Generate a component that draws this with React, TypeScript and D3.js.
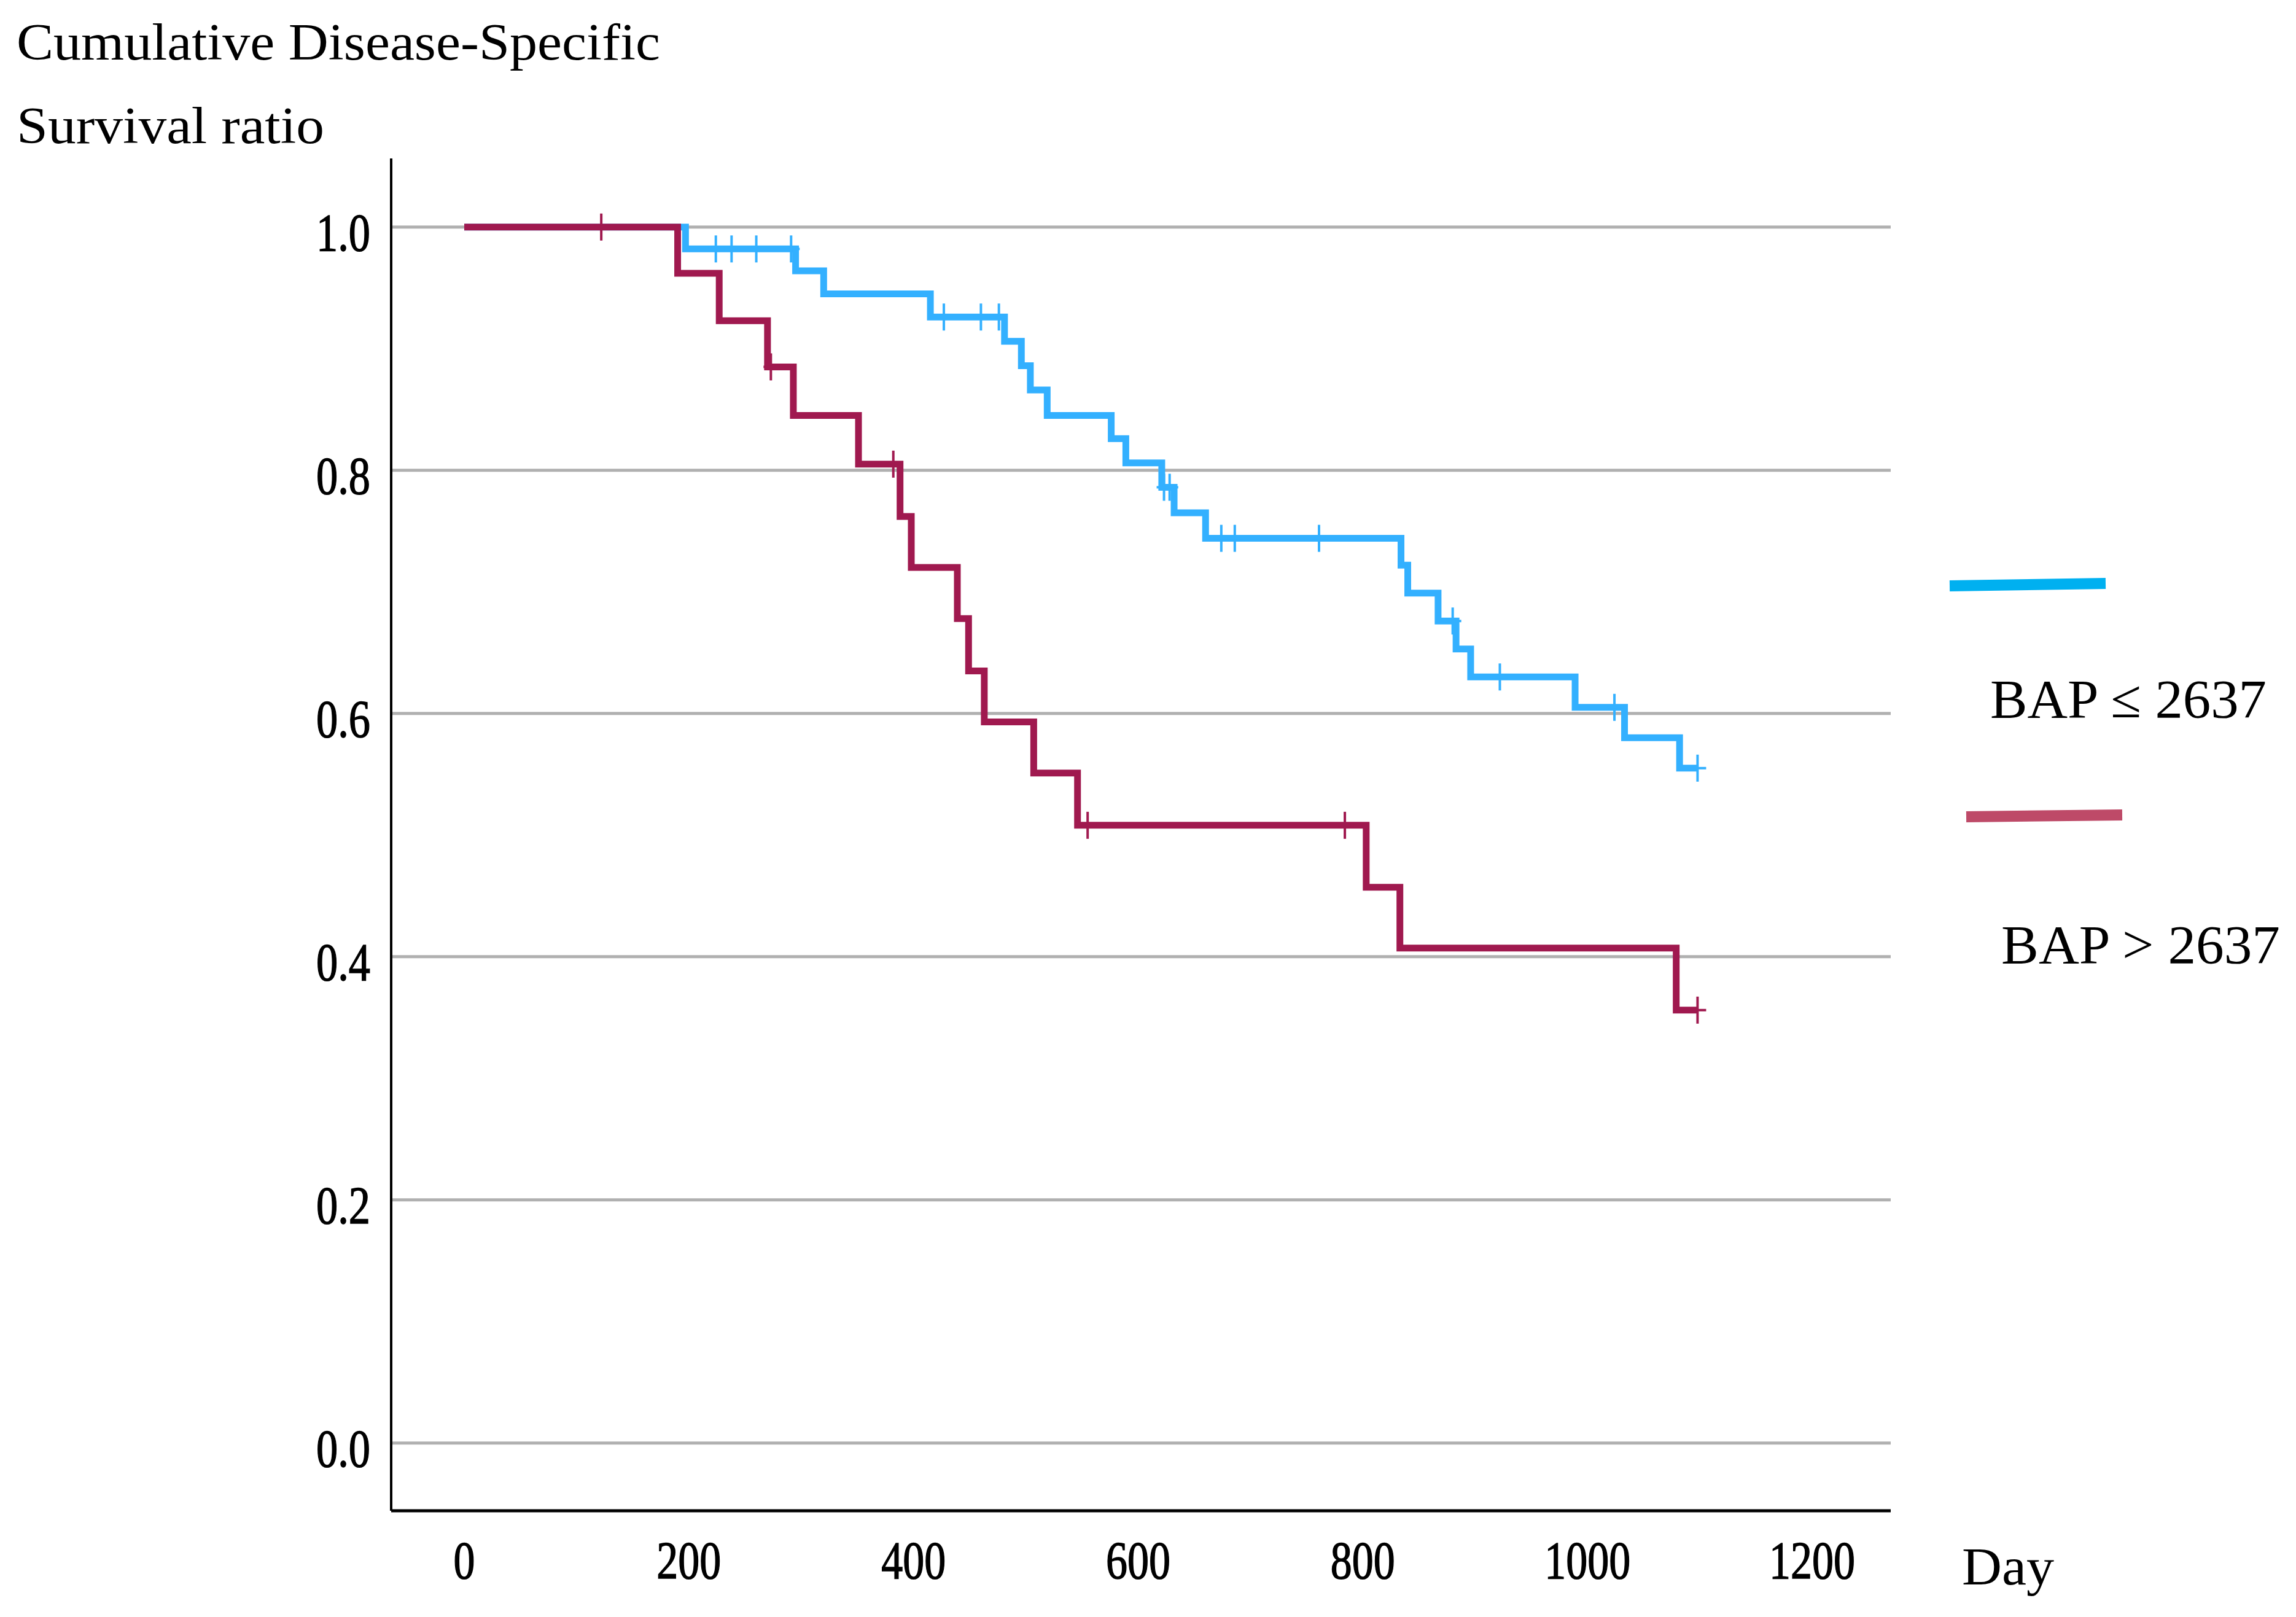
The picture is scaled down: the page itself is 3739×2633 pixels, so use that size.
import * as d3 from "d3"

// Kaplan-Meier steps: day of event and survival ratio after it
const lowDays = [0, 197, 295, 320, 415, 481, 496, 504, 519, 576, 589, 621, 632, 660, 834, 840, 867, 883, 896, 989, 1033, 1082]
const lowSurv = [1.0, 0.982, 0.964, 0.945, 0.926, 0.906, 0.886, 0.866, 0.845, 0.826, 0.806, 0.786, 0.765, 0.744, 0.722, 0.699, 0.676, 0.653, 0.63, 0.605, 0.58, 0.555]
const lowCensored = [224, 238, 260, 291, 427, 460, 476, 623, 628, 674, 686, 761, 880, 922, 1024, 1098]
const lowEnd = 1098

const highDays = [0, 190, 227, 270, 293, 351, 388, 398, 439, 449, 463, 507, 546, 803, 833, 1079]
const highSurv = [1.0, 0.962, 0.923, 0.885, 0.845, 0.805, 0.762, 0.72, 0.678, 0.635, 0.593, 0.551, 0.508, 0.457, 0.407, 0.356]
const highCensored = [122, 273, 382, 555, 784, 1098]
const highEnd = 1098

const xTicks = [0, 200, 400, 600, 800, 1000, 1200]
const yTicks = [0, 0.2, 0.4, 0.6, 0.8, 1.0]

const W = 3739
const H = 2633
const font = "'Liberation Serif', 'Times New Roman', serif"

const x = d3.scaleLinear().domain([0, 1200]).range([756, 2951])
const y = d3.scaleLinear().domain([0, 1]).range([2349.7, 369.7])

const axisLeftX = 637
const axisBottomY = 2460
const plotRight = 3079
const plotTop = 258

type Pt = { day: number; s: number }

function steps(days: number[], surv: number[], end: number): Pt[] {
  const pts = days.map((d, i) => ({ day: d, s: surv[i] }))
  pts.push({ day: end, s: surv[surv.length - 1] })
  return pts
}

function survAt(days: number[], surv: number[], t: number) {
  let s = surv[0]
  days.forEach((d, i) => {
    if (d <= t) s = surv[i]
  })
  return s
}

const stepLine = d3
  .line<Pt>()
  .x((d) => x(d.day))
  .y((d) => y(d.s))
  .curve(d3.curveStepAfter)

function Curve({ days, surv, censored, end, color }: { days: number[]; surv: number[]; censored: number[]; end: number; color: string }) {
  return (
    <g>
      <path d={stepLine(steps(days, surv, end)) || ""} fill="none" stroke={color} strokeWidth={11} strokeLinejoin="miter" />
      {censored.map((t, i) => {
        const cx = x(t)
        const cy = y(survAt(days, surv, t))
        return (
          <g key={i} stroke={color} strokeWidth={4}>
            <line x1={cx} x2={cx} y1={cy - 22} y2={cy + 22} />
            <line x1={cx - 12} x2={cx + 14} y1={cy} y2={cy} />
          </g>
        )
      })}
    </g>
  )
}

export default function App() {
  return (
    <svg
      width={W}
      height={H}
      viewBox={`0 0 ${W} ${H}`}
      style={{ position: "absolute", left: 0, top: 0, display: "block", background: "#fff" }}
    >
      <rect width={W} height={H} fill="#fff" />

      {/* titles */}
      <text x={27} y={97} fontFamily={font} fontSize={84} textLength={1048} lengthAdjust="spacingAndGlyphs" fill="#000">
        Cumulative Disease-Specific
      </text>
      <text x={27} y={233} fontFamily={font} fontSize={84} textLength={501} lengthAdjust="spacingAndGlyphs" fill="#000">
        Survival ratio
      </text>

      {/* gridlines */}
      {yTicks.map((t) => (
        <line key={t} x1={axisLeftX} x2={plotRight} y1={y(t)} y2={y(t)} stroke="#b0b0b0" strokeWidth={5} />
      ))}

      {/* axes */}
      <line x1={axisLeftX} x2={axisLeftX} y1={plotTop} y2={axisBottomY} stroke="#000" strokeWidth={4} />
      <line x1={axisLeftX} x2={plotRight} y1={axisBottomY} y2={axisBottomY} stroke="#000" strokeWidth={5} />

      {yTicks.map((t) => (
        <text
          key={t}
          x={603}
          y={y(t) + 38}
          textAnchor="end"
          fontFamily={font}
          fontSize={86}
          textLength={88}
          lengthAdjust="spacingAndGlyphs"
          fill="#000"
          stroke="#000"
          strokeWidth={1.5}
        >
          {t.toFixed(1)}
        </text>
      ))}
      {xTicks.map((t) => (
        <text
          key={t}
          x={x(t)}
          y={2570}
          textAnchor="middle"
          fontFamily={font}
          fontSize={86}
          textLength={35 * String(t).length}
          lengthAdjust="spacingAndGlyphs"
          fill="#000"
          stroke="#000"
          strokeWidth={1.5}
        >
          {t}
        </text>
      ))}
      <text x={3195} y={2580} fontFamily={font} fontSize={86} textLength={150} lengthAdjust="spacingAndGlyphs" fill="#000">
        Day
      </text>

      {/* survival curves */}
      <Curve days={lowDays} surv={lowSurv} censored={lowCensored} end={lowEnd} color="#33b0ff" />
      <Curve days={highDays} surv={highSurv} censored={highCensored} end={highEnd} color="#a0194f" />

      {/* legend */}
      <line x1={3175} y1={954} x2={3429} y2={950} stroke="#00b0f0" strokeWidth={18} />
      <text x={3241} y={1168} fontFamily={font} fontSize={88} textLength={450} lengthAdjust="spacingAndGlyphs" fill="#000">
        BAP ≤ 2637
      </text>
      <line x1={3202} y1={1330} x2={3456} y2={1327} stroke="#be4a68" strokeWidth={18} />
      <text x={3259} y={1568} fontFamily={font} fontSize={88} textLength={454} lengthAdjust="spacingAndGlyphs" fill="#000">
        BAP &gt; 2637
      </text>
    </svg>
  )
}
